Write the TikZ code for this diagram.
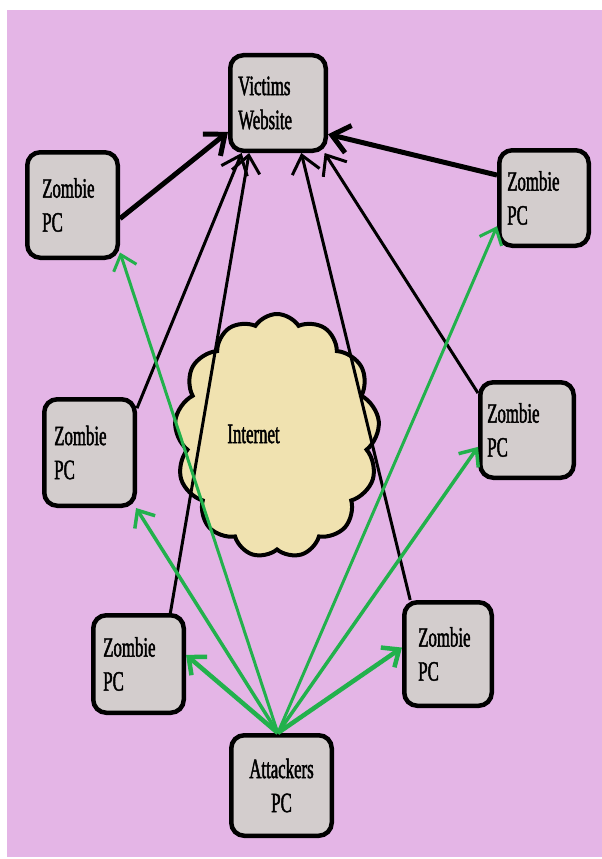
\documentclass[tikz,border=0pt]{standalone}
\usepackage{fontspec}
\usetikzlibrary{arrows.meta,shapes.symbols}
\newfontfamily\pcfont[FakeStretch=0.6,FakeBold=1.6]{Liberation Serif}
\definecolor{bgpurple}{RGB}{228,181,230}
\definecolor{boxgrey}{RGB}{211,205,205}
\definecolor{cloudfill}{RGB}{240,226,176}
\definecolor{paintgreen}{RGB}{34,177,76}
\tikzset{
  pcbox/.style={draw=black, line width=4.5pt, rounded corners=13pt, fill=boxgrey,
    align=left, inner ysep=0pt, font={\pcfont\fontsize{28}{34}\selectfont}},
  netcloud/.style={cloud, cloud puffs=13, cloud puff arc=115, draw=black,
    line width=4pt, fill=cloudfill, inner sep=0pt},
  hit/.style={draw=black, -{Straight Barb[length=17pt,width=28pt]}},
  cmd/.style={draw=paintgreen, -{Straight Barb[length=14pt,width=24pt]}}
}
\begin{document}
\begin{tikzpicture}[x=1pt,y=-1pt]
  \useasboundingbox (0,0) rectangle (602,859);
  \fill[white] (0,0) rectangle (602,859);
  \fill[bgpurple] (7,10) rectangle (602,857);

  % the internet cloud
  \node[netcloud, minimum width=205pt, minimum height=244pt] (net) at (277,436) {};
  \node[font={\pcfont\fontsize{28}{34}\selectfont}, inner sep=0pt] (netlabel) at (253.5,434) {Internet};

  % machines
  \node[pcbox, minimum height=95.5pt, text width=79.5pt, inner xsep=8pt]  (vic) at (278,103)   {Victims\\Website};
  \node[pcbox, minimum height=105.5pt, text width=60.5pt, inner xsep=15pt] (tl) at (72.5,205) {Zombie\\PC};
  \node[pcbox, minimum height=95.5pt, text width=73.5pt, inner xsep=8pt]  (tr) at (544,198)   {Zombie\\PC};
  \node[pcbox, minimum height=106.5pt, text width=70.5pt, inner xsep=10pt] (ml) at (89.5,452.5) {Zombie\\PC};
  \node[pcbox, minimum height=95.5pt, text width=79.5pt, inner xsep=7pt]  (mr) at (527,430)   {Zombie\\PC};
  \node[pcbox, minimum height=97.5pt, text width=70.5pt, inner xsep=10pt] (ll) at (138.5,664) {Zombie\\PC};
  \node[pcbox, minimum height=103.5pt, text width=59.5pt, inner xsep=14pt] (lr) at (448,654)  {Zombie\\PC};
  \node[pcbox, align=center, minimum height=100.5pt, text width=80.5pt, inner xsep=10pt] (att) at (281.5,785.5) {Attackers\\PC};

  % zombies flooding the website
  \draw[hit, line width=5pt] (tl.-16) -- (vic.210);
  \draw[hit, line width=3pt] (ml.43) -- (vic.234);
  \draw[hit, line width=3pt] (ll.58) -- (vic.240);
  \draw[hit, line width=3pt] (lr.125) -- (vic.295);
  \draw[hit, line width=3pt] (mr.143) -- (vic.313);
  \draw[hit, line width=5pt] (tr.154) -- (vic.328);

  % attacker commanding the zombies
  \draw[cmd, line width=3pt]   (att.94) -- (tl.315);
  \draw[cmd, line width=3.5pt] (att.94) -- (ml.310);
  \draw[cmd, line width=4.5pt] (att.94) -- (ll.11);
  \draw[cmd, line width=3pt]   (att.94) -- (tr.211);
  \draw[cmd, line width=3.5pt] (att.94) -- (mr.199);
  \draw[cmd, line width=4.5pt] (att.94) -- (lr.172);
\end{tikzpicture}
\end{document}
